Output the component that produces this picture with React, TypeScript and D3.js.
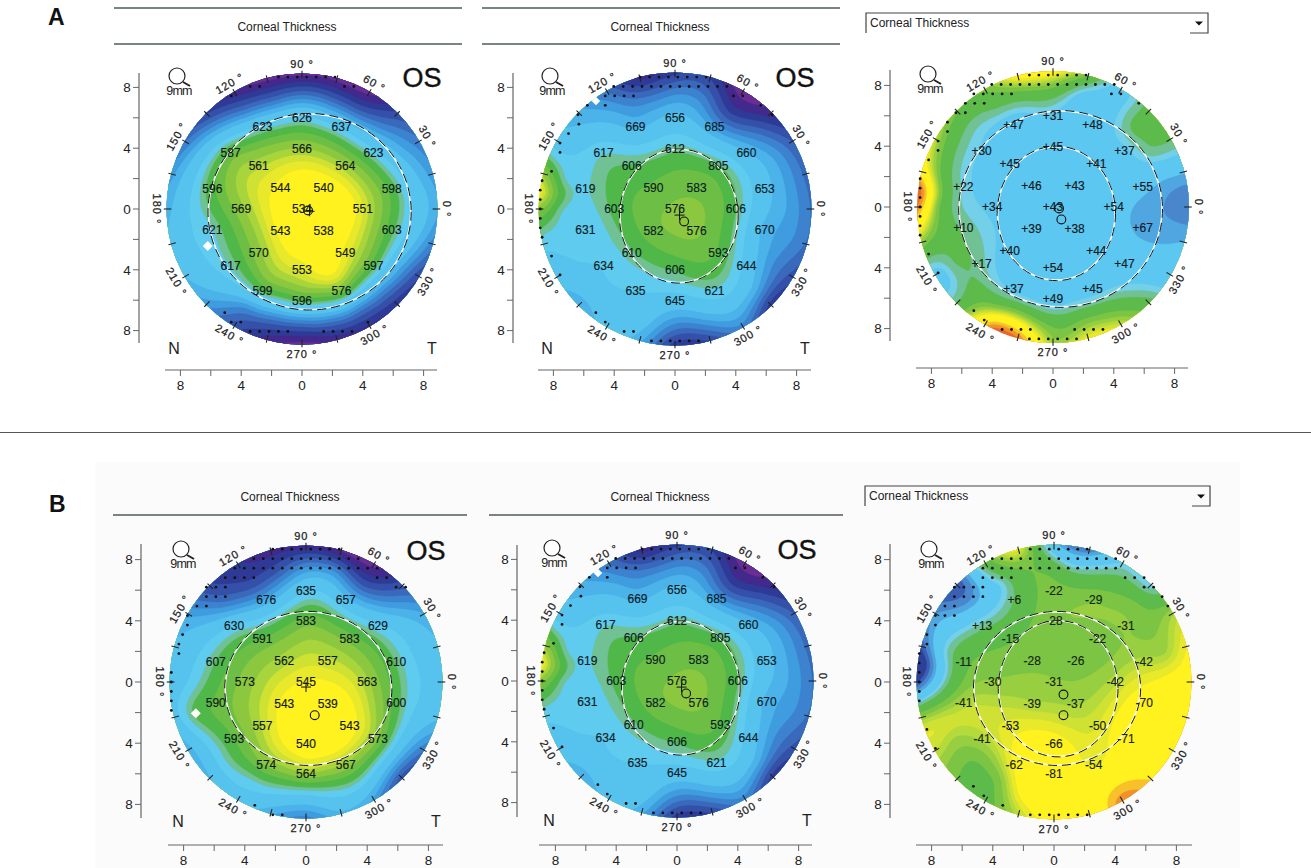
import React, { useMemo } from "react";
import * as d3 from "d3";

// ---------- data ----------
const labelsA1 = ["534","544","540","543","538","566","564","551","549","553","570","569","561","626","637","623","598","603","597","576","596","599","617","621","596","587","623"];
const labelsA2 = ["576","590","583","582","576","612","805","606","593","606","610","603","606","656","685","660","653","670","644","621","645","635","634","631","619","617","669"];
const fieldA2 = [576,590,583,582,576,612,605,606,593,606,610,603,606,656,685,660,653,670,644,621,645,635,634,631,619,617,669];
const labelsA3 = ["+43","+46","+43","+39","+38","+45","+41","+54","+44","+54","+40","+34","+45","+31","+48","+37","+55","+67","+47","+45","+49","+37","+17","+10","+22","+30","+47"];
const labelsB1 = ["545","562","557","543","539","583","583","563","543","540","557","573","591","635","657","629","610","600","573","567","564","574","593","590","607","630","676"];
const labelsB3 = ["-31","-28","-26","-39","-37","-28","-22","-42","-50","-66","-53","-30","-15","-22","-29","-31","-42","-70","-71","-54","-81","-62","-41","-41","-11","+13","+6"];

// outer field samples, 0°,15°,… counter-clockwise
const rimA1 = [680,690,705,735,785,785,785,785,770,745,715,690,675,660,665,690,730,765,785,770,760,755,740,705];
const nearA1 = [640,650,670,695,720,715,705,715,705,675,650,640,635,635,640,655,695,705,705,695,695,690,675,650];
const rimA2 = [710,715,725,765,785,740,745,765,710,675,650,565,570,630,650,680,655,675,750,740,700,755,730,710];
const nearA2 = [680,680,685,715,745,700,690,700,680,655,635,622,618,625,635,640,640,650,690,675,655,670,695,685];
const rimA3 = [85,60,5,0,40,-30,-75,-75,-25,-25,-50,-85,-125,-35,40,10,-100,-125,-35,-60,-50,-5,50,60];
const nearA3 = [75,60,8,0,40,45,-5,0,5,15,5,-10,-15,-5,5,0,-20,-35,-10,-15,-5,25,50,65];
const rimB1 = [650,660,680,730,785,785,770,765,750,735,685,660,660,650,680,670,650,680,705,670,690,740,710,660];
const nearB1 = [635,640,650,695,730,690,690,725,735,710,660,640,630,600,625,620,625,630,640,625,625,650,650,640];
const rimB3 = [-75,-60,-40,35,30,95,60,-60,-10,100,75,100,110,-35,-45,-20,-10,-40,-65,-60,-115,-90,-75,-85];
const nearB3 = [-65,-35,-25,-20,-5,15,-10,-20,20,70,45,25,35,-40,-35,-15,-20,-70,-70,-75,-80,-75,-80,-75];
// a few extra samples [x mm, y mm, value] where the colour changes quickly
const extraA1:number[][] = [];
const extraA2:number[][] = [[-8.6,1,548],[-7.4,1,600]];
const extraA3:number[][] = [[-8.6,1,-120],[-4,-8,-125],[6.4,4.8,5],[-7.3,-4.4,40],[-5.6,-3.6,5]];
const extraB1:number[][] = [];
const extraB3:number[][] = [[1,8.2,50],[2.5,8,45],[-2,7.6,-15],[-6,6.2,95],[-3.6,6.4,40],[-8.4,1.2,110]];

// invalid-data dots as [grid row, first column, last column]
const dotsA1 = [[14,-2.5,3.5],[13,-5.5,-4.5],[13,4.5,5.5],[12,-7.5,-7.5],[-11,-8.2,-8.2],[-12,-7.5,-6.5],[-12,7,7],[-13,-5.5,-1.5],[-13,2.3,5.3]];
const dotsA2 = [[14,-3.7,3.3],[13,-6.5,5.5],[12,-7.4,-4.4],[12,6.2,7.2],[11,-9.3,-9.3],[11,-7.4,-7.4],[11,9.1,9.1],[10,-10.3,-10.3],[10,10.3,10.3],[9,-10.2,-10.2],[8,-11.3,-11.3],[7,-12.2,-12.2],[6,-12.2,-12.2],[4,-13.1,-13.1],[3,-14.1,-14.1],[2,-14.3,-14.3],[1,-14.3,-14.3],[0,-14.3,-14.3],[-1,-14.3,-14.3],[-2,-14.3,-14.3],[-3,-14.1,-14.1],[-5,-13.1,-13.1],[-7,-12.2,-12.2],[-11,-8.4,-8.4],[-12,-7.4,-7.4],[-13,-5.4,-4.4],[-14,-2.5,2.5]];
const dotsA3 = [[14,-2.5,3.5],[13,-6.5,6.5],[12,-8.4,-4.4],[12,6.2,7.2],[11,-9.3,-7.3],[11,9.1,9.1],[10,-10.3,-9.3],[9,-11.2,-10.3],[8,-11.2,-11.2],[7,-12.2,-12.2],[6,-12.2,-12.2],[5,-13.2,-13.2],[3,-14.1,-14.1],[2,-14.1,-14.1],[1,-14.1,-14.1],[0,-14.1,-14.1],[-1,-14.1,-14.1],[-2,-14.1,-14.1],[-3,-14.1,-14.1],[-5,-13.2,-13.2],[-7,-12.2,-12.2],[-11,-8.4,-8.4],[-12,-7.3,-6.4],[-13,-5.4,-1.6],[-13,2.3,5.3],[-14,-2.5,2.5]];
const dotsB1 = [[14,-3.5,3.5],[13,-5.5,5.5],[12,-7.5,7.5],[11,-8.5,-5.5],[11,7.5,8.5],[10,-10.5,-8.5],[10,9.5,10.5],[9,-10.5,-8.5],[8,-11.5,-10.5],[7,-12.5,-12.5],[6,-12.5,-12.5],[5,-13,-13],[4,-13.4,-13.4],[3,-13.4,-13.4],[1,-14.2,-14.2],[0,-14.2,-14.2],[-1,-14.2,-14.2],[-2,-14.2,-14.2],[-3,-14.2,-14.2],[-13,-5.4,-5.4],[-14,-3.5,-2.5]];
const dotsB3 = [[14,-2.5,3.5],[13,-6.5,6.5],[12,-7.5,7],[11,-7.5,-4.5],[11,7.5,9.5],[10,-10.5,-7.5],[10,9.5,10.5],[9,-10.5,-7.5],[9,11.4,11.4],[8,-11.5,-10.5],[8,12,12],[7,-12.5,-10.5],[6,-12.5,-12.5],[5,-13.4,-13.4],[4,-13.4,-13.4],[3,-14.2,-13.4],[2,-14.2,-14.2],[1,-14.2,-14.2],[0,-14.2,-14.2],[-1,-14.2,-14.2],[-2,-14.2,-14.2],[-5,-13.4,-13.4],[-7,-12.5,-12.5],[-11,-8.5,-8.5],[-12,-7.4,-7.4],[-13,-5.4,-4.5],[-14,-2.5,3.5]];

const thickThresholds = [546,552,558,566,578,592,608,618,634,662,678,692,706,720,736,752,770];
const thickColors = ["#fff21f","#e8e92a","#cfe133","#a8d43c","#8cc83f","#6cbf44","#50b848","#70c193","#5fcbee","#56c3ef","#4bb3ea","#3f9cdf","#3c82cf","#3a68bb","#3450a8","#2e3a96","#43298c","#6b2d93"];
const diffThresholds = [-115,-102,-90,-58,-50,-44,-38,-30,-18,8,20,30,62,74,88,100];
const diffColors = ["#e8682c","#f0922c","#f8c02a","#fff21f","#e8e92a","#cfe133","#b4da3c","#98cf41","#7cc544","#5cbb4a","#70c193","#74cfe8","#5cc7f1","#4fa6e0","#4a86cc","#3a5fb4","#2e3f98"];

const ticksMm = [8,6,4,2,0,-2,-4,-6,-8];
const tickLabelMm = [8,4,0,-4,-8];
const angleLabels = [90,60,30,0,330,300,270,240,210,180,150,120];
const tickAngles = d3.range(0,360,15);

// ---------- layout ----------
const labelPosMm = [[0,0],[-1.42,1.42],[1.42,1.42],[-1.42,-1.42],[1.42,-1.42],[0,4],[2.85,2.85],[4,0],[2.85,-2.85],[0,-4],[-2.85,-2.85],[-4,0],[-2.85,2.85],[0,6],[2.6,5.4],[4.7,3.7],[5.9,1.35],[5.9,-1.35],[4.7,-3.7],[2.6,-5.4],[0,-6],[-2.6,-5.4],[-4.7,-3.7],[-5.9,-1.35],[-5.9,1.35],[-4.7,3.7],[-2.6,5.4]];

const fieldOf = (vals:number[], rim:number[], near:number[], extra:number[][]) => {
  const pts:number[][] = labelPosMm.map((p,i)=>[p[0],p[1],vals[i]]);
  rim.forEach((v,i)=>{const a=i*15*Math.PI/180; pts.push([9.1*Math.cos(a),9.1*Math.sin(a),v]);});
  near.forEach((v,i)=>{const a=i*15*Math.PI/180; pts.push([7.5*Math.cos(a),7.5*Math.sin(a),v]);});
  extra.forEach(e=>pts.push(e));
  return pts;
};
const num = (a:string[]) => a.map(Number);

const STEP = 0.16, SPAN = 10;
function tpsGrid(pts:number[][]){
  const n=pts.length, m=n+3;
  const A:number[][]=d3.range(m).map(()=>new Array(m+1).fill(0));
  const U=(r2:number)=>r2<=1e-9?0:r2*Math.log(r2)/2;
  for(let i=0;i<n;i++){
    for(let j=0;j<n;j++){
      const dx=pts[i][0]-pts[j][0],dy=pts[i][1]-pts[j][1];
      A[i][j]=U(dx*dx+dy*dy)+(i===j?0.6:0);
    }
    A[i][n]=1;A[i][n+1]=pts[i][0];A[i][n+2]=pts[i][1];
    A[n][i]=1;A[n+1][i]=pts[i][0];A[n+2][i]=pts[i][1];
    A[i][m]=pts[i][2];
  }
  for(let c=0;c<m;c++){
    let p=c;for(let r=c+1;r<m;r++)if(Math.abs(A[r][c])>Math.abs(A[p][c]))p=r;
    [A[c],A[p]]=[A[p],A[c]];
    for(let r=c+1;r<m;r++){const f=A[r][c]/A[c][c];if(f)for(let k=c;k<=m;k++)A[r][k]-=f*A[c][k];}
  }
  const w=new Array(m).fill(0);
  for(let r=m-1;r>=0;r--){let s=A[r][m];for(let k=r+1;k<m;k++)s-=A[r][k]*w[k];w[r]=s/A[r][r];}
  const N=Math.round(2*SPAN/STEP)+1;
  const out=new Array(N*N);
  for(let j=0;j<N;j++){
    const y=SPAN-j*STEP;
    for(let i=0;i<N;i++){
      const x=-SPAN+i*STEP;
      let s=w[n]+w[n+1]*x+w[n+2]*y;
      for(let q=0;q<n;q++){const dx=x-pts[q][0],dy=y-pts[q][1];s+=w[q]*U(dx*dx+dy*dy);}
      out[j*N+i]=s;
    }
  }
  return {N,values:out};
}

type Panel = {
  id:string; cx:number; cy:number; k:number; R:number; axisX:number; yTop:number; yBot:number; axisY:number; xL:number; xR:number;
  labels:string[]; field:number[][]; diff:boolean; dots:number[][]; rings:number[][]; circles:number[][]; crosses:number[][];
  diamond?:number[]; os:boolean; labelFill:string; notch?:number[];
};
const ringA1=[0.5,-0.18,6.65,6.43], ringA2=[0.25,-0.46,3.87,4.38], ringB1=[0.15,-0.42,5.43,5.0];
const fA2=fieldOf(fieldA2,rimA2,nearA2,extraA2);
const panels:Panel[]=[
 {id:"a1",cx:302,cy:209,k:15.2,R:135.5,axisX:139,yTop:73,yBot:343,axisY:370,xL:165,xR:437,labels:labelsA1,field:fieldOf(num(labelsA1),rimA1,nearA1,extraA1),diff:false,dots:dotsA1,rings:[ringA1],circles:[[0.4,-0.1]],crosses:[[0.5,-0.15]],diamond:[-6.2,-2.43],os:true,labelFill:"#10181a"},
 {id:"a2",cx:675,cy:209,k:15.2,R:136.5,axisX:513,yTop:73,yBot:343,axisY:370,xL:538,xR:811,labels:labelsA2,field:fA2,diff:false,dots:dotsA2,rings:[ringA2],circles:[[0.6,-0.82]],crosses:[[0.3,-0.4]],os:true,labelFill:"#0c1c24",notch:[-5.2,7.1]},
 {id:"a3",cx:1053,cy:207,k:15.2,R:136,axisX:890,yTop:70,yBot:341,axisY:368,xL:916,xR:1188,labels:labelsA3,field:fieldOf(num(labelsA3),rimA3,nearA3,extraA3),diff:true,dots:dotsA3,rings:[[0.5,-0.13,6.67,6.44],[0.22,-0.42,3.86,4.39]],circles:[[0.55,-0.82],[0.4,-0.1]],crosses:[],os:false,labelFill:"#10181a"},
 {id:"b1",cx:306,cy:682,k:15.3,R:136.5,axisX:141,yTop:544,yBot:818,axisY:845,xL:168,xR:443,labels:labelsB1,field:fieldOf(num(labelsB1),rimB1,nearB1,extraB1),diff:false,dots:dotsB1,rings:[ringB1],circles:[[0.57,-2.17]],crosses:[[0,-0.33]],diamond:[-7.2,-2.05],os:true,labelFill:"#10181a"},
 {id:"b2",cx:677,cy:681,k:15.2,R:136.5,axisX:517,yTop:545,yBot:817,axisY:845,xL:539,xR:812,labels:labelsA2,field:fA2,diff:false,dots:dotsA2,rings:[ringA2],circles:[[0.6,-0.82]],crosses:[[0.3,-0.4]],os:true,labelFill:"#0c1c24",notch:[-5.2,7.1]},
 {id:"b3",cx:1054,cy:682,k:15.3,R:137.5,axisX:890,yTop:544,yBot:818,axisY:845,xL:916,xR:1192,labels:labelsB3,field:fieldOf(num(labelsB3),rimB3,nearB3,extraB3),diff:true,dots:dotsB3,rings:[[0.2,-0.42,5.43,5.0],[0.27,-0.44,3.88,4.42]],circles:[[0.62,-0.82],[0.62,-2.17]],crosses:[],os:false,labelFill:"#16240f"},
];

const FONT="'Liberation Sans', Arial, sans-serif";
const COL_PITCH=0.62;

function MapPanel({p}:{p:Panel}){
  const x=d3.scaleLinear().domain([-1,1]).range([p.cx-p.k,p.cx+p.k]);
  const y=d3.scaleLinear().domain([-1,1]).range([p.cy+p.k,p.cy-p.k]);
  const bands=useMemo(()=>{
    const {N,values}=tpsGrid(p.field);
    const th=p.diff?diffThresholds:thickThresholds;
    const col=p.diff?diffColors:thickColors;
    const px=STEP*p.k;
    const path=d3.geoPath(d3.geoIdentity().scale(px).translate([p.cx-SPAN*p.k-px*0.5,p.cy-SPAN*p.k-px*0.5]) as any);
    const cs=d3.contours().size([N,N]).smooth(true).thresholds(th)(values);
    return cs.map((c,i)=>({d:path(c as any)||"",fill:col[i+1]}));
  },[p]);
  const base=p.diff?diffColors[0]:thickColors[0];
  const dots=p.dots.flatMap(([r,a,b])=>d3.range(a,b+0.01,1).map(c=>[c*COL_PITCH,r*COL_PITCH]));
  const magX=p.cx-125,magY=p.cy-133;
  return <g>
    <clipPath id={"clip-"+p.id}><circle cx={p.cx} cy={p.cy} r={p.R}/></clipPath>
    <g clipPath={`url(#clip-${p.id})`}>
      <rect x={p.cx-p.R} y={p.cy-p.R} width={2*p.R} height={2*p.R} fill={base}/>
      {bands.map((b,i)=><path key={i} d={b.d} fill={b.fill} stroke={b.fill} strokeWidth={0.3}/>)}
    </g>
    {tickAngles.map(a=>{const t=a*Math.PI/180;const r0=p.R/p.k-0.32,r1=p.R/p.k+0.18;
      return <line key={a} x1={x(r0*Math.cos(t))} y1={y(r0*Math.sin(t))} x2={x(r1*Math.cos(t))} y2={y(r1*Math.sin(t))} stroke="#222" strokeWidth={1.1}/>;})}
    {dots.map((d,i)=><circle key={i} cx={x(d[0])} cy={y(d[1])} r={1.4} fill="#111"/>)}
    {p.notch && <rect x={x(p.notch[0])-3} y={y(p.notch[1])-3} width={6} height={6} fill="#fff" transform={`rotate(45 ${x(p.notch[0])} ${y(p.notch[1])})`}/>}
    {p.rings.map((r,i)=><g key={i}>
      <ellipse cx={x(r[0])} cy={y(r[1])} rx={r[2]*p.k} ry={r[3]*p.k} fill="none" stroke="#fff" strokeWidth={1.5}/>
      <ellipse cx={x(r[0])} cy={y(r[1])} rx={r[2]*p.k+0.5} ry={r[3]*p.k+0.5} fill="none" stroke="#111" strokeWidth={1} strokeDasharray="9 5"/>
    </g>)}
    {p.circles.map((c,i)=><circle key={i} cx={x(c[0])} cy={y(c[1])} r={4.4} fill="none" stroke="#111" strokeWidth={1.1}/>)}
    {p.crosses.map((c,i)=><g key={i} stroke="#111" strokeWidth={1}>
      <line x1={x(c[0])-5} x2={x(c[0])+5} y1={y(c[1])} y2={y(c[1])}/>
      <line x1={x(c[0])} x2={x(c[0])} y1={y(c[1])-5} y2={y(c[1])+5}/>
    </g>)}
    {p.diamond && <path d={`M${x(p.diamond[0])-5},${y(p.diamond[1])}l5,-5l5,5l-5,5z`} fill="#fff"/>}
    {p.labels.map((l,i)=><text key={i} x={x(labelPosMm[i][0])} y={y(labelPosMm[i][1])} dy="0.36em" textAnchor="middle" fontFamily={FONT} fontSize={12} fill={p.labelFill} stroke={p.labelFill} strokeWidth={0.15}>{l}</text>)}
    {angleLabels.map(a=>{const t=a*Math.PI/180,rr=p.R+9.5;const px=p.cx+rr*Math.cos(t),py=p.cy-rr*Math.sin(t);
      let rot=90-a; if(a===180)rot=90; if(a>180&&a<360)rot=270-a; if(a===150)rot=-60; if(a===120)rot=-30;
      return <text key={a} transform={`translate(${px},${py}) rotate(${rot})`} dy="0.36em" textAnchor="middle" fontFamily={FONT} fontSize={11} letterSpacing={1} fill="#222" stroke="#222" strokeWidth={0.25}>{a} °</text>;})}
    {/* magnifier */}
    <circle cx={magX} cy={magY} r={8} fill="#fff" stroke="#222" strokeWidth={1.2}/>
    <line x1={magX+6} y1={magY+6} x2={magX+13} y2={magY+10} stroke="#222" strokeWidth={2}/>
    <text x={magX+2} y={magY+19} textAnchor="middle" fontFamily={FONT} fontSize={12.5} letterSpacing={-0.7} fill="#222">9mm</text>
    {p.os && <text x={p.cx+120} y={p.cy-132} dy="0.36em" textAnchor="middle" fontFamily={FONT} fontSize={27} fill="#111" stroke="#111" strokeWidth={0.4}>OS</text>}
    {p.os && <text x={p.cx-128} y={p.cy+139} dy="0.36em" textAnchor="middle" fontFamily={FONT} fontSize={16} fill="#222">N</text>}
    {p.os && <text x={p.cx+130} y={p.cy+139} dy="0.36em" textAnchor="middle" fontFamily={FONT} fontSize={16} fill="#222">T</text>}
    {/* axes */}
    <line x1={p.axisX} x2={p.axisX} y1={p.yTop} y2={p.yBot} stroke="#666" strokeWidth={1.2}/>
    {ticksMm.map(m=><line key={m} x1={p.axisX-6} x2={p.axisX} y1={y(m)} y2={y(m)} stroke="#666" strokeWidth={1}/>)}
    {tickLabelMm.map(m=><text key={m} x={p.axisX-12} y={y(m)} dy="0.36em" textAnchor="middle" fontFamily={FONT} fontSize={13.5} fill="#222">{Math.abs(m)}</text>)}
    <line x1={p.xL} x2={p.xR} y1={p.axisY} y2={p.axisY} stroke="#666" strokeWidth={1.2}/>
    {ticksMm.map(m=><line key={m} x1={x(m)} x2={x(m)} y1={p.axisY} y2={p.axisY+6} stroke="#666" strokeWidth={1}/>)}
    {tickLabelMm.map(m=><text key={m} x={x(m)} y={p.axisY+15} dy="0.36em" textAnchor="middle" fontFamily={FONT} fontSize={13.5} fill="#222">{Math.abs(m)}</text>)}
  </g>;
}

const heads=[{x1:114,x2:462,y1:8,y2:44,tx:287,ty:27},{x1:482,x2:840,y1:8,y2:44,tx:660,ty:27},{x1:113,x2:467,y1:null,y2:515,tx:290,ty:497},{x1:489,x2:843,y1:null,y2:515,tx:660,ty:497}];
const selects=[{x:866,y:13,w:342,h:20},{x:865,y:486,w:345,h:20}];

export default function App(){
  return <svg width={1311} height={868} viewBox="0 0 1311 868" style={{position:"absolute",left:0,top:0,background:"#fff"}}>
    <rect x={95} y={462} width={1145} height={406} fill="#fbfbfb"/>
    <text x={48} y={25} fontFamily={FONT} fontWeight={700} fontSize={23} fill="#111">A</text>
    <text x={49} y={512} fontFamily={FONT} fontWeight={700} fontSize={23} fill="#111">B</text>
    <line x1={0} x2={1311} y1={432.5} y2={432.5} stroke="#555" strokeWidth={1}/>
    {heads.map((h,i)=><g key={i}>
      {h.y1!==null && <line x1={h.x1} x2={h.x2} y1={h.y1} y2={h.y1} stroke="#4f5a5a" strokeWidth={1.3}/>}
      <line x1={h.x1} x2={h.x2} y1={h.y2} y2={h.y2} stroke="#4f5a5a" strokeWidth={1.3}/>
      <text x={h.tx} y={h.ty} dy="0.36em" textAnchor="middle" fontFamily={FONT} fontSize={12} fill="#222">Corneal Thickness</text>
    </g>)}
    {selects.map((s,i)=><g key={i}>
      <path d={`M${s.x},${s.y+s.h}V${s.y}H${s.x+s.w}V${s.y+s.h}H${s.x+s.w-18}`} fill="none" stroke="#444" strokeWidth={1.2}/>
      <path d={`M${s.x+s.w-13},${s.y+8.5}h8l-4,4z`} fill="#111"/>
      <text x={s.x+4} y={s.y+10} dy="0.36em" fontFamily={FONT} fontSize={12} fill="#222">Corneal Thickness</text>
    </g>)}
    {panels.map(p=><MapPanel key={p.id} p={p}/>)}
  </svg>;
}
